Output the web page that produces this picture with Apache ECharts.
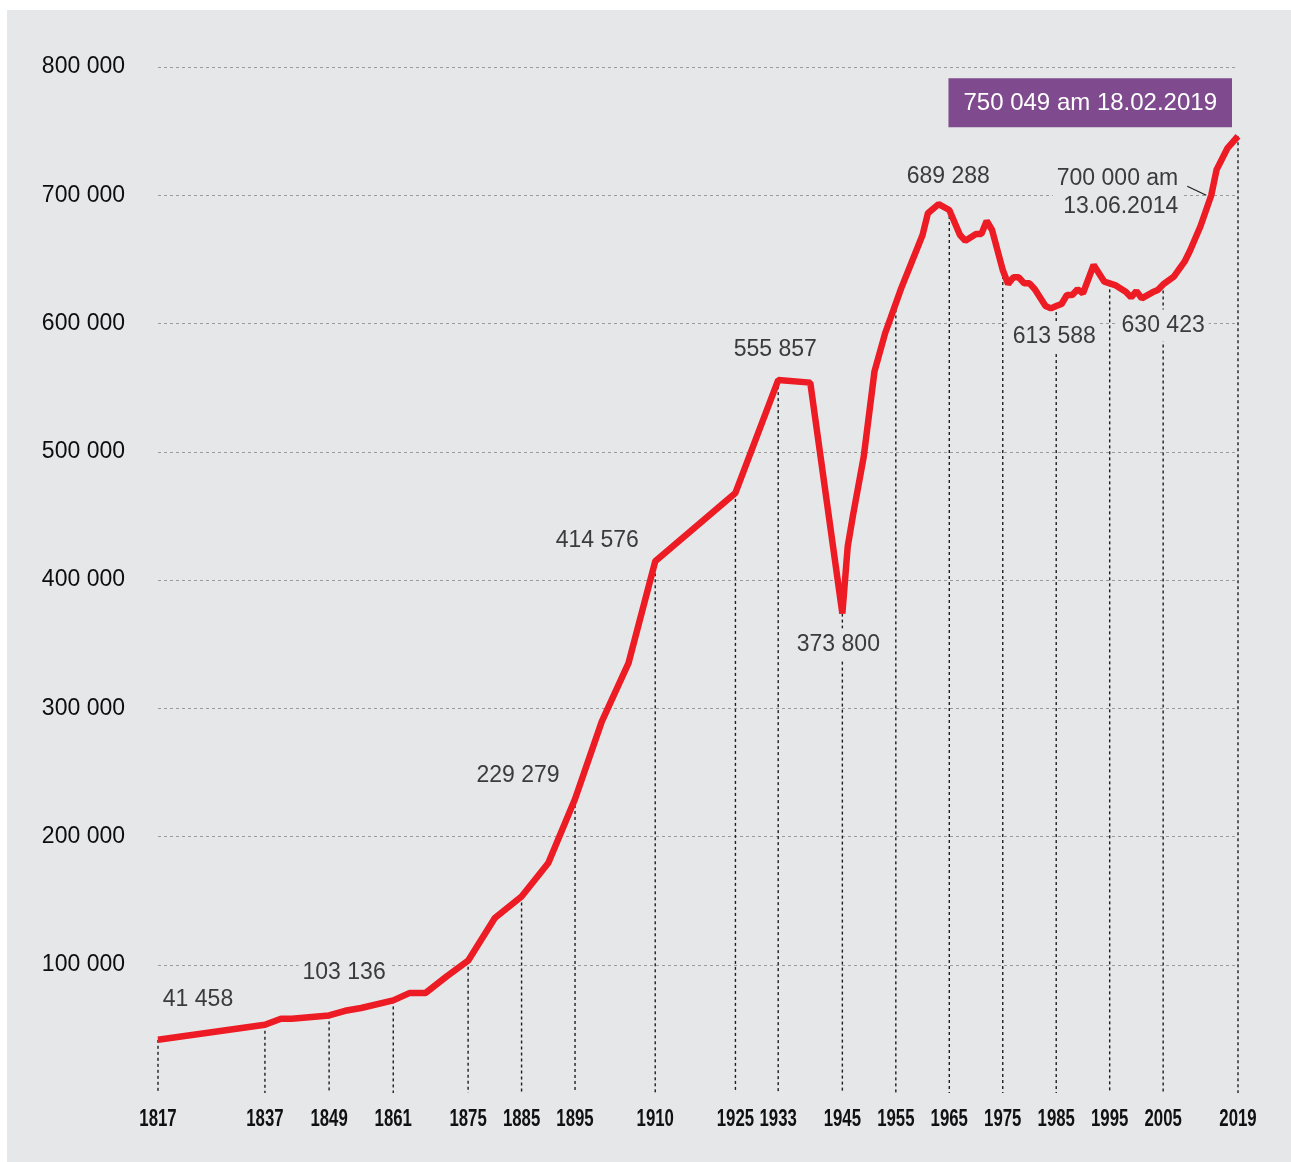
<!DOCTYPE html>
<html>
<head>
<meta charset="utf-8">
<script src="https://cdn.jsdelivr.net/npm/echarts@6/dist/echarts.min.js"></script>
<style>
html,body{margin:0;padding:0;background:#ffffff;}
#c{width:1291px;height:1162px;}
</style>
</head>
<body>
<div id="c"></div>
<script>
// ---------- data ----------
const years = [1817,1837,1840,1842,1849,1852,1855,1861,1864,1867,1871,1875,1880,1885,1890,1895,1900,1905,1910,1925,1933,1939,1945,1946,1947,1949,1951,1953,1954,1956,1958,1960,1961,1963,1965,1967,1968,1970,1971,1972,1973,1975,1976,1977,1978,1979,1980,1981,1983,1984,1985,1986,1987,1988,1989,1990,1992,1994,1996,1998,1999,2000,2001,2003,2004,2005,2007,2009,2010,2012,2014,2015,2017,2019];
const population = [41458,53200,57900,57900,60500,64100,66300,72200,77900,77900,90900,103136,136400,153200,179300,229279,289600,335200,414576,467900,555857,553900,373800,426000,450700,496200,562400,592400,604000,627400,648200,669000,685900,693100,688500,669000,664500,669800,669800,680000,672900,641700,630800,636000,636000,631300,631300,626700,613600,611800,613588,615200,622200,622200,626700,623500,645600,632600,630000,624800,620400,625300,619600,624300,626100,630423,636500,648200,656500,676000,700000,720000,736500,746000];
const tickYears = [1817,1837,1849,1861,1875,1885,1895,1910,1925,1933,1945,1955,1965,1975,1985,1995,2005,2019];
const yTicks = [0,100000,200000,300000,400000,500000,600000,700000,800000];
const noteYears = [1817,1875,1895,1910,1933,1945,1965,1985,2005,2014];
const noteTexts = ['41 458','103 136','229 279','414 576','555 857','373 800','689 288','613 588','630 423','700 000 am\n13.06.2014'];
const peakYear = 2019;
const peakText = '750 049 am 18.02.2019';

// ---------- helpers ----------
function interp(yr){
  for (let i=0;i<years.length-1;i++){
    if (yr>=years[i] && yr<=years[i+1]){
      const t=(yr-years[i])/(years[i+1]-years[i]);
      return population[i]+t*(population[i+1]-population[i]);
    }
  }
  return population[population.length-1];
}
function fmt(v){ return String(v).replace(/\B(?=(\d{3})+(?!\d))/g,' '); }

const BG = '#e6e7e9';
const noteLayout = [
  {offset:[40,-40]},
  {offset:[-124,12]},
  {offset:[-57,-23]},
  {offset:[-58,-21]},
  {offset:[-3,-30]},
  {offset:[-4,31]},
  {offset:[-1,-33]},
  {offset:[-2,31]},
  {offset:[0,41]},
  {offset:[-29,-3], align:'right'}
];

const noteData = noteYears.map((y,i)=>{
  const lay = noteLayout[i];
  return {
    value:[y, interp(y)],
    label:{
      show:true,
      formatter: noteTexts[i],
      position:'inside',
      align: lay.align || 'center',
      verticalAlign:'middle',
      offset: lay.offset
    }
  };
});
noteData.push({
  value:[peakYear, interp(peakYear)],
  label:{
    show:true,
    formatter: peakText,
    position:'inside',
    align:'right',
    verticalAlign:'bottom',
    offset:[-6,-9],
    color:'#ffffff',
    fontSize:24,
    backgroundColor:'#7f4b8e',
    padding:[11,15,10,15],
    lineHeight:28
  }
});

const chart = echarts.init(document.getElementById('c'), null, {renderer:'canvas'});
chart.setOption({
  animation:false,
  backgroundColor:'#ffffff',
  graphic:[{
    type:'rect', z:-10, silent:true,
    shape:{x:7,y:10,width:1284,height:1152},
    style:{fill:BG}
  }],
  grid:{left:158, right:53, top:67, bottom:69, containLabel:false},
  xAxis:{
    type:'value', min:1817, max:2019,
    axisLine:{show:false}, axisTick:{show:false}, splitLine:{show:false},
    axisLabel:{show:false}
  },
  yAxis:{
    type:'value', min:yTicks[0], max:yTicks[yTicks.length-1], interval:100000,
    axisLine:{show:false}, axisTick:{show:false},
    splitLine:{show:true, showMinLine:false, lineStyle:{color:'#9b9b9b', width:1, type:[3,3]}},
    axisLabel:{
      showMinLabel:false,
      formatter: v=> v===0 ? '' : fmt(v),
      margin:33,
      color:'#0d0d0d',
      fontSize:23,
      fontFamily:"'Liberation Sans',Arial,sans-serif"
    }
  },
  series:[
    {
      type:'custom', z:1, silent:true,
      data: tickYears.map(y=>[y, interp(y)]),
      renderItem:(params, api)=>{
        const top = api.coord([api.value(0), api.value(1)]);
        const bot = api.coord([api.value(0), 0]);
        return {type:'group', children:[
          {type:'line', shape:{x1:top[0],y1:top[1],x2:bot[0],y2:bot[1]},
            style:{stroke:'#1e1e1e', lineWidth:1.4, lineDash:[3,3]}},
          {type:'text', x:bot[0], y:bot[1]+27, scaleX:0.73,
            style:{text:String(api.value(0)), fill:'#111111', fontSize:23, fontWeight:'bold',
              fontFamily:"'Liberation Sans',Arial,sans-serif", align:'center', verticalAlign:'middle'}}
        ]};
      }
    },
    {
      type:'custom', z:1, silent:true,
      data: [[noteYears[noteYears.length-1], interp(noteYears[noteYears.length-1])]],
      renderItem:(params, api)=>{
        const p = api.coord([api.value(0), api.value(1)]);
        return {type:'line', shape:{x1:p[0]-24,y1:p[1]-9,x2:p[0]-5,y2:p[1]},
          style:{stroke:'#1e1e1e', lineWidth:1.2}};
      }
    },
    {
      type:'line', z:2, silent:true,
      data: years.map((y,i)=>[y, population[i]]),
      showSymbol:false, symbol:'none',
      lineStyle:{color:'#ed1c24', width:6.5, join:'bevel'}
    },
    {
      type:'scatter', z:5, silent:true,
      symbolSize:1,
      itemStyle:{color:'rgba(0,0,0,0)', opacity:1},
      data: noteData,
      label:{
        show:true,
        color:'#3b3b3b',
        fontSize:23,
        lineHeight:28,
        fontFamily:"'Liberation Sans',Arial,sans-serif",
        backgroundColor:BG,
        padding:[2,4]
      }
    }
  ]
});
</script>
</body>
</html>
